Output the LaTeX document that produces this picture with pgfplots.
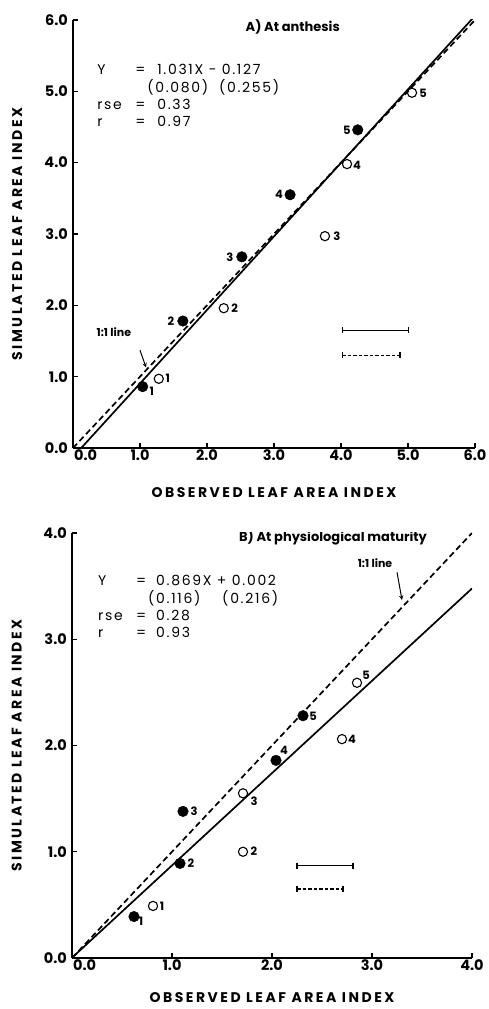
\documentclass[border=0pt]{standalone}
\usepackage{pgfplots}
\pgfplotsset{compat=1.18}
\usepackage{fontspec}
\setmainfont{Poppins}
\newcommand\wide[1]{\addfontfeatures{LetterSpace=#1}}
\begin{document}
\begin{tikzpicture}
\useasboundingbox (0,0) rectangle (488pt,1009pt);
\pgfplotsset{
  leafstyle/.style={
    scale only axis,
    axis lines=left,
    axis line style={-, line width=1.2pt},
    tick align=inside,
    major tick length=5pt,
    tick style={line width=1.2pt, black},
    /pgf/number format/assume math mode=true,
    /pgf/number format/fixed,
    /pgf/number format/fixed zerofill,
    /pgf/number format/precision=1,
    ticklabel style={font=\bfseries\fontsize{14.5}{16}\selectfont},
    xticklabel style={inner sep=1pt, yshift=-0.5pt},
    yticklabel style={inner sep=1pt, xshift=-4pt},
    label style={font=\bfseries\fontsize{14}{16}\selectfont\wide{18}},
    xlabel={OBSERVED LEAF AREA INDEX},
    ylabel={SIMULATED LEAF AREA INDEX},
    extra x ticks={0},
    extra x tick style={xticklabel style={anchor=north west, xshift=0pt}},
    clip=true,
  },
  filledpt/.style={only marks, mark=*, mark size=5.3pt, mark options={fill=black, draw=black}},
  openpt/.style={only marks, mark=o, mark size=4.6pt, mark options={draw=black, line width=1.1pt, fill=white}},
  regline/.style={line width=1.7pt, black, no marks},
  oneline/.style={line width=1.7pt, black, no marks, dash pattern=on 6pt off 3.5pt},
}
% ---------------- Panel A ----------------
\begin{axis}[leafstyle,
  at={(73pt,561pt)}, anchor=south west,
  width=402pt, height=428pt,
  xmin=0, xmax=6, ymin=0, ymax=6,
  xtick={1,2,...,6}, ytick={0,1,...,6},
  xlabel style={at={(axis description cs:0.5,-0.103)}, anchor=center},
  ylabel style={at={(axis description cs:-0.139,0.5)}, anchor=center},
]
\addplot[oneline] coordinates {(0,0) (6,6)};
\addplot[regline] coordinates {(0.123,0) (6,6.059)};
\addplot[openpt] coordinates {(1.28,0.97) (2.25,1.96) (3.76,2.97) (4.09,3.98) (5.06,4.98)};
\addplot[filledpt] coordinates {(1.04,0.86) (1.64,1.78) (2.52,2.68) (3.24,3.55) (4.25,4.46)};
% error bars
\addplot[line width=1.3pt, black, mark=|, mark size=3pt] coordinates {(4.02,1.65) (5.01,1.65)};
\addplot[line width=1.3pt, black, dash pattern=on 3.5pt off 2pt, mark=|, mark size=3pt, mark options={solid}] coordinates {(4.02,1.30) (4.88,1.30)};
% point labels
\begin{scope}[every node/.style={font=\bfseries\fontsize{11.5}{13}\selectfont, inner sep=0pt}]
\node at (axis cs:1.04,0.86) [xshift=9pt, yshift=-5pt] {1};
\node at (axis cs:1.28,0.97) [xshift=9pt] {1};
\node at (axis cs:1.64,1.78) [xshift=-12pt] {2};
\node at (axis cs:2.25,1.96) [xshift=11pt] {2};
\node at (axis cs:2.52,2.68) [xshift=-12pt] {3};
\node at (axis cs:3.76,2.97) [xshift=12pt] {3};
\node at (axis cs:3.24,3.55) [xshift=-11pt] {4};
\node at (axis cs:4.09,3.98) [xshift=10pt, yshift=-1pt] {4};
\node at (axis cs:4.25,4.46) [xshift=-11pt] {5};
\node at (axis cs:5.06,4.98) [xshift=11pt, yshift=-1pt] {5};
\end{scope}
\node[font=\bfseries\fontsize{13}{15}\selectfont] at (axis cs:3.28,5.90) {A) At anthesis};
\node[font=\fontsize{11}{12}\selectfont\bfseries, inner sep=0pt] at (axis cs:0.61,1.63) {1:1 line};
\draw[-stealth, line width=1pt] (axis cs:1.00,1.37) -- (axis cs:1.09,1.13);
\node[anchor=base west, inner sep=0pt, font=\fontsize{14}{17}\selectfont\wide{12}] at (axis cs:0.36,5.24) {%
\begin{tabular}[t]{@{}p{38pt}@{}p{22pt}@{}l@{}}
Y & = & 1.031X - 0.127\\
 & & \hspace{-10pt}(0.080)\ \ (0.255)\\
rse & = & 0.33\\
r & = & 0.97
\end{tabular}};
\end{axis}
% ---------------- Panel B ----------------
\begin{axis}[leafstyle,
  at={(72pt,51pt)}, anchor=south west,
  width=400pt, height=425pt,
  xmin=0, xmax=4, ymin=0, ymax=4,
  xtick={1,2,...,4}, ytick={0,1,...,4},
  xlabel style={at={(axis description cs:0.5,-0.094)}, anchor=center},
  ylabel style={at={(axis description cs:-0.138,0.5)}, anchor=center},
]
\addplot[oneline] coordinates {(0,0) (4,4)};
\addplot[regline] coordinates {(0,0.002) (4,3.478)};
\addplot[openpt] coordinates {(0.81,0.49) (1.71,1.00) (1.71,1.55) (2.70,2.06) (2.85,2.59)};
\addplot[filledpt] coordinates {(0.62,0.39) (1.08,0.89) (1.11,1.38) (2.04,1.86) (2.31,2.28)};
\addplot[line width=1.3pt, black, mark=|, mark size=3pt] coordinates {(2.25,0.87) (2.81,0.87)};
\addplot[line width=1.3pt, black, dash pattern=on 3.5pt off 2pt, mark=|, mark size=3pt, mark options={solid}] coordinates {(2.25,0.65) (2.71,0.65)};
\begin{scope}[every node/.style={font=\bfseries\fontsize{11.5}{13}\selectfont, inner sep=0pt}]
\node at (axis cs:0.62,0.39) [xshift=7pt, yshift=-5pt] {1};
\node at (axis cs:0.81,0.49) [xshift=9pt] {1};
\node at (axis cs:1.08,0.89) [xshift=11pt] {2};
\node at (axis cs:1.71,1.00) [xshift=11pt, yshift=1pt] {2};
\node at (axis cs:1.11,1.38) [xshift=11pt] {3};
\node at (axis cs:1.71,1.55) [xshift=11pt, yshift=-8pt] {3};
\node at (axis cs:2.04,1.86) [xshift=8pt, yshift=10pt] {4};
\node at (axis cs:2.70,2.06) [xshift=10pt] {4};
\node at (axis cs:2.31,2.28) [xshift=10pt, yshift=-1pt] {5};
\node at (axis cs:2.85,2.59) [xshift=9pt, yshift=8pt] {5};
\end{scope}
\node[font=\bfseries\fontsize{13}{15}\selectfont] at (axis cs:2.61,3.96) {B) At physiological maturity};
\node[font=\fontsize{11}{12}\selectfont\bfseries, inner sep=0pt] at (axis cs:3.03,3.72) {1:1 line};
\draw[-stealth, line width=1pt] (axis cs:3.25,3.63) -- (axis cs:3.30,3.37);
\node[anchor=base west, inner sep=0pt, font=\fontsize{14}{17}\selectfont\wide{12}] at (axis cs:0.26,3.51) {%
\begin{tabular}[t]{@{}p{38pt}@{}p{20pt}@{}l@{}}
Y & = & 0.869X + 0.002\\
 & & \hspace{-8pt}(0.116)\ \ \ \ (0.216)\\
rse & = & 0.28\\
r & = & 0.93
\end{tabular}};
\end{axis}
\end{tikzpicture}
\end{document}
